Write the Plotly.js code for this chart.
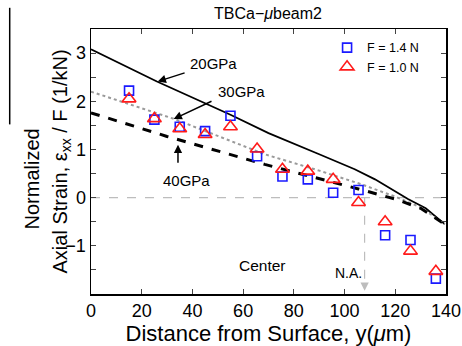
<!DOCTYPE html>
<html><head><meta charset="utf-8">
<script src="https://cdn.plot.ly/plotly-3.0.1.min.js"></script>
<style>body{margin:0;background:#fff}#c{width:462px;height:346px}</style>
</head><body><div id="c"></div>
<script>
// measured positions (um)
const depth = [15, 25, 35, 45, 55, 65.5, 75.5, 85.5, 95.5, 105.5, 116, 126, 136];
const strainF14 = [2.22, 1.62, 1.47, 1.38, 1.70, 0.86, 0.44, 0.38, 0.10, 0.16, -0.78, -0.88, -1.68];
const strainF10 = [2.05, 1.64, 1.43, 1.31, 1.47, 1.01, 0.59, 0.55, 0.38, -0.10, -0.50, -1.11, -1.53];
// model curves
const x20 = [0, 26, 55, 70, 90, 104, 112, 125, 132, 139.5];
const y20 = [3.08, 2.41, 1.72, 1.34, 0.90, 0.59, 0.38, -0.03, -0.22, -0.55];
const x30 = [0, 33, 68.5, 90, 106.5, 120, 130, 139.5];
const y30 = [2.20, 1.63, 0.90, 0.56, 0.28, 0.02, -0.20, -0.55];
const x40 = [0, 30, 68.5, 90, 105.5, 120, 130, 139.5];
const y40 = [1.76, 1.27, 0.69, 0.40, 0.18, -0.03, -0.22, -0.55];
const xTicks = [0, 20, 40, 60, 80, 100, 120, 140];
const yTicks = [-1.5, -1, -0.5, 0, 0.5, 1, 1.5, 2, 2.5, 3];
const yTickText = ['', '\u22121', '', '0', '', '1', '', '2', '', '3'];
const neutralAxis = 107.9;

const F = 'Liberation Sans, Arial, sans-serif';
const traces = [
  {x: x20, y: y20, mode: 'lines', line: {color: '#000', width: 1.8}, showlegend: false},
  {x: x30, y: y30, mode: 'lines', line: {color: '#9a9a9a', width: 2, dash: 'dot'}, showlegend: false},
  {x: x40, y: y40, mode: 'lines', line: {color: '#000', width: 3, dash: 'dash'}, showlegend: false},
  {x: depth, y: strainF14, mode: 'markers', name: 'F = 1.4 N',
   marker: {symbol: 'square-open', size: 9, color: '#1a1aff', line: {width: 1.6, color: '#1a1aff'}}},
  {x: depth, y: strainF10, mode: 'markers', name: 'F = 1.0 N',
   marker: {symbol: 'triangle-up-open', size: 12, color: '#ff1a1a', line: {width: 1.6, color: '#ff1a1a'}}}
];
const arrow = (x, y, ax, ay, col) => ({x, y, ax, ay, xref: 'x', yref: 'y', axref: 'x', ayref: 'y', text: ' ',
  showarrow: true, arrowhead: 2, arrowsize: 1.1, arrowwidth: 1.5, arrowcolor: col || '#000', standoff: 0, startstandoff: 0});
const label = (x, y, t, size) => ({x, y, xref: 'x', yref: 'y', text: t, showarrow: false,
  font: {family: F, size: size || 15, color: '#000'}});
const layout = {
  width: 462, height: 346,
  margin: {l: 91, r: 16, t: 29, b: 52},
  paper_bgcolor: '#fff', plot_bgcolor: '#fff',
  font: {family: F, color: '#000'},
  title: {text: 'TBCa\u2212<i>\u03bc</i>beam2', font: {family: F, size: 16, color: '#000'},
    x: 0.58, xanchor: 'center', y: 0.962, yanchor: 'middle', yref: 'container'},
  xaxis: {range: [0, 140], tickvals: xTicks, ticks: 'inside', ticklen: 5, tickwidth: 1,
    showline: true, linewidth: 1.5, linecolor: '#000', mirror: 'allticks', showgrid: false, zeroline: false,
    tickfont: {family: F, size: 18}, title: {text: 'Distance from Surface, y(<i>\u03bc</i>m)', font: {family: F, size: 22}, standoff: 4}},
  yaxis: {range: [-2, 3.5], tickvals: yTicks, ticktext: yTickText, ticks: 'inside', ticklen: 5, tickwidth: 1,
    showline: true, linewidth: 1.5, linecolor: '#000', mirror: 'allticks', showgrid: false, zeroline: false,
    tickfont: {family: F, size: 18}},
  legend: {x: 0.665, y: 0.985, xanchor: 'left', yanchor: 'top', bgcolor: 'rgba(0,0,0,0)',
    font: {family: F, size: 12.5}, itemwidth: 30, tracegroupgap: 0},
  shapes: [
    {type: 'line', xref: 'x', yref: 'y', x0: 0, x1: 140, y0: 0, y1: 0, line: {color: '#bdbdbd', width: 1.2, dash: 'dash'}, layer: 'below'},
    {type: 'line', xref: 'x', yref: 'y', x0: neutralAxis, x1: neutralAxis, y0: 0, y1: -1.85, line: {color: '#bdbdbd', width: 1.2, dash: 'dash'}, layer: 'below'},
    {type: 'line', xref: 'paper', yref: 'paper', x0: -0.229, x1: -0.229, y0: 1.08, y1: 0.64, line: {color: '#000', width: 1.5}}
  ],
  annotations: [
    arrow(26.3, 2.41, 38.1, 2.61), label(48.5, 2.79, '20GPa'),
    arrow(32.6, 1.63, 48.7, 2.03), label(59.5, 2.20, '30GPa'),
    arrow(34.3, 1.10, 34.3, 0.55), label(37.5, 0.35, '40GPa'),
    label(67.6, -1.40, 'Center', 15.5), label(101.5, -1.57, 'N.A.', 14),
    arrow(neutralAxis, -1.93, neutralAxis, -1.7, '#bdbdbd'),
    {x: 18, y: 232, xref: 'paper', yref: 'paper', text: 'Normalized', textangle: -90, showarrow: false,
     font: {family: F, size: 20}},
    {x: 46, y: 162, xref: 'paper', yref: 'paper', text: 'Axial Strain, \u03b5<sub>xx</sub> / F (1/kN)', textangle: -90, showarrow: false,
     font: {family: F, size: 20}}
  ]
};
// convert pixel-placed paper annotations
const pw = 462 - 91 - 16, ph = 346 - 29 - 52;
layout.annotations.forEach(a => { if (a.xref === 'paper') { a.x = (a.x - 91) / pw; a.y = (346 - 52 - a.y) / ph; } });
Plotly.newPlot('c', traces, layout, {displayModeBar: false, staticPlot: true});
</script></body></html>
